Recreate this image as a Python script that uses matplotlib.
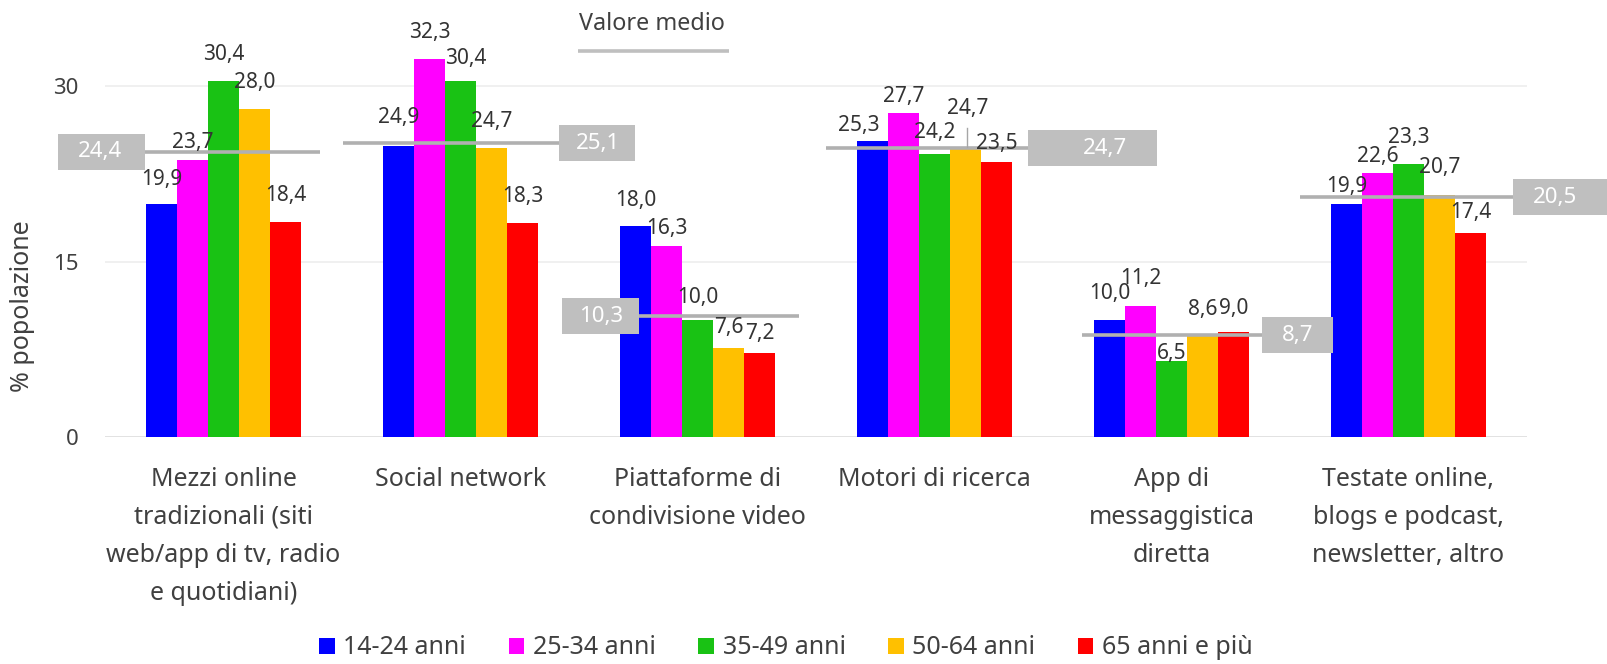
import matplotlib
matplotlib.use("Agg")
import matplotlib.pyplot as plt
from matplotlib.patches import Rectangle, Patch
from matplotlib.lines import Line2D

plt.rcParams['font.family'] = ['Noto Sans', 'DejaVu Sans']

# ---------------- data ----------------
categories = [
    "Mezzi online\ntradizionali (siti\nweb/app di tv, radio\ne quotidiani)",
    "Social network",
    "Piattaforme di\ncondivisione video",
    "Motori di ricerca",
    "App di\nmessaggistica\ndiretta",
    "Testate online,\nblogs e podcast,\nnewsletter, altro",
]
series_names = ["14-24 anni", "25-34 anni", "35-49 anni", "50-64 anni", "65 anni e più"]
v_14_24 = [19.9, 24.9, 18.0, 25.3, 10.0, 19.9]
v_25_34 = [23.7, 32.3, 16.3, 27.7, 11.2, 22.6]
v_35_49 = [30.4, 30.4, 10.0, 24.2, 6.5, 23.3]
v_50_64 = [28.0, 24.7, 7.6, 24.7, 8.6, 20.7]
v_65_plus = [18.4, 18.3, 7.2, 23.5, 9.0, 17.4]
average = [24.4, 25.1, 10.3, 24.7, 8.7, 20.5]
y_ticks = [0, 15, 30]

series = [v_14_24, v_25_34, v_35_49, v_50_64, v_65_plus]
colors = ["#0000FF", "#FF00FF", "#19C214", "#FFC000", "#FF0000"]

# ---------------- layout (pixels in the 1608x664 canvas) ----------------
W, H = 1608, 664
AX_L, AX_R, AX_B = 105, 1527, 437
PX_PER_UNIT = 11.7
YMAX = 37
CAT_W = (AX_R - AX_L) / len(categories)


def px2x(px):
    return (px - AX_L) / CAT_W - 0.5


# label offsets above bar top (px), per category x series
label_dy = [
    [25, 17, 27, 27, 26],
    [28, 27, 23, 27, 26],
    [26, 18, 23, 21, 19],
    [15, 16, 21, 40, 19],
    [27, 27, 7, 27, 23],
    [18, 16, 27, 27, 21],
]
label_dx = [
    [0, 0, 0, 0, 0],
    [0, 0, 5, 0, 0],
    [0, 0, 0, 0, 0],
    [-14, 0, 0, 2, 0],
    [0, 0, 0, 0, 0],
    [0, 0, 0, 0, 0],
]
# average line extents and label boxes (px)
avg_line_px = [(145, 320), (343, 559), (639, 799), (826, 1028), (1082, 1262), (1300, 1513)]
avg_box_px = [(58, 145), (559, 635), (562, 639), (1028, 1157), (1262, 1333), (1513, 1640)]
avg_text_px = [100, 598, 601, 1105, 1298, 1555]

fig = plt.figure(figsize=(W / 100, H / 100), dpi=100)
ax = fig.add_axes([AX_L / W, (H - AX_B) / H, (AX_R - AX_L) / W, YMAX * PX_PER_UNIT / H])
ax.set_xlim(-0.5, len(categories) - 0.5)
ax.set_ylim(0, YMAX)

for s in ax.spines.values():
    s.set_visible(False)

# gridlines
for t in y_ticks:
    if t == 0:
        ax.axhline(t, color="#D9D9D9", lw=1.8, zorder=1)
    else:
        ax.axhline(t, color="#F0F0F0", lw=1.4, zorder=0)

bw = 31 / CAT_W
text_color = "#404040"
for j, (vals, col) in enumerate(zip(series, colors)):
    xs = [i + (j - 2) * bw for i in range(len(categories))]
    ax.bar(xs, vals, width=bw, color=col, zorder=2, linewidth=0)
    for i, (x, v) in enumerate(zip(xs, vals)):
        ax.annotate(f"{v:.1f}".replace(".", ","), (x, v),
                    xytext=(label_dx[i][j] * 0.72, label_dy[i][j] * 0.72),
                    textcoords="offset points", ha="center", va="center",
                    fontsize=15, color="#333333", zorder=5)

# leader line for the 24,7 label (Motori di ricerca, 50-64)
xl = 3 + 1 * bw + 2 / CAT_W
ax.plot([xl, xl], [v_50_64[3] + 0.1, v_50_64[3] + 20 / PX_PER_UNIT],
        color="#A6A6A6", lw=1.0, zorder=5)

# average lines and boxes
box_h = 36 / PX_PER_UNIT
for i, avg in enumerate(average):
    x0, x1 = avg_line_px[i]
    ax.plot([px2x(x0), px2x(x1)], [avg, avg], color="#B0B0B0", lw=2.6,
            solid_capstyle="butt", zorder=4, clip_on=False)
    b0, b1 = avg_box_px[i]
    ax.add_patch(Rectangle((px2x(b0), avg - box_h / 2), px2x(b1) - px2x(b0), box_h,
                           facecolor="#BFBFBF", edgecolor="none", zorder=4, clip_on=False))
    ax.text(px2x(avg_text_px[i]), avg, f"{avg:.1f}".replace(".", ","), ha="center", va="center",
            color="white", fontsize=16, zorder=6, clip_on=False)

# axes ticks
ax.set_yticks(y_ticks)
ax.set_yticklabels([str(t) for t in y_ticks], fontsize=16, color=text_color)
ax.set_xticks(range(len(categories)))
ax.set_xticklabels(categories, fontsize=18, color=text_color, linespacing=1.68)
ax.tick_params(axis="y", length=0, pad=19)
ax.tick_params(axis="x", length=0, pad=21.5)

fig.text(23 / W, 1 - 306 / H, "% popolazione", rotation=90, ha="center", va="center",
         fontsize=18, color=text_color)

# "Valore medio" legend
fig.text(652 / W, 1 - 24 / H, "Valore medio", ha="center", va="center", fontsize=16.8, color=text_color)
fig.add_artist(Line2D([578 / W, 729 / W], [1 - 51 / H, 1 - 51 / H], color="#BFBFBF", lw=2.6,
                      transform=fig.transFigure, solid_capstyle="butt"))

# series legend
handles = [Patch(facecolor=c, edgecolor="none", label=n) for c, n in zip(colors, series_names)]
leg = fig.legend(handles=handles, loc="center", bbox_to_anchor=(786 / W, 1 - 648 / H), ncol=5,
                 frameon=False, fontsize=18, handlelength=0.62, handleheight=0.62,
                 handletextpad=0.35, columnspacing=1.7, borderpad=0)
for t in leg.get_texts():
    t.set_color(text_color)

fig.savefig("out.png", dpi=100)
